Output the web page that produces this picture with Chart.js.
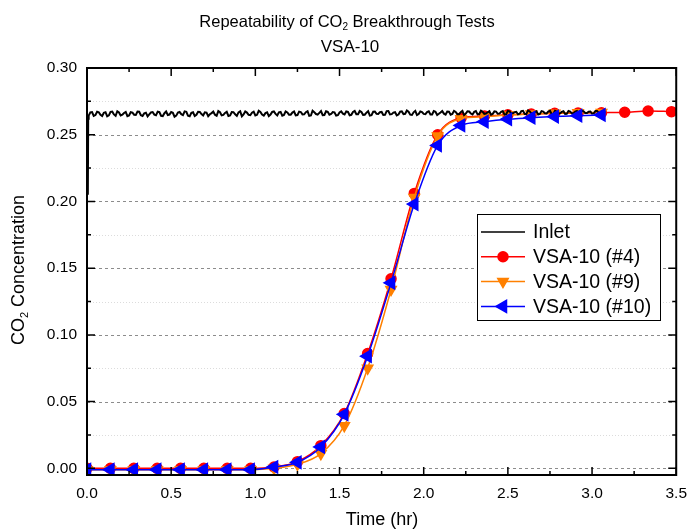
<!DOCTYPE html>
<html>
<head>
<meta charset="utf-8">
<script src="https://cdn.jsdelivr.net/npm/chart.js@4.4.0/dist/chart.umd.min.js"></script>
<style>
  html, body { margin: 0; padding: 0; background: #fff; }
  #wrap { width: 696px; height: 531px; }
</style>
</head>
<body>
<div id="wrap"><canvas id="chart" width="696" height="531"></canvas></div>
<script>
const FONT = '"Liberation Sans", Arial, sans-serif';

// text pieces, sub = subscript
const TITLE_LINE1 = [{ t: 'Repeatability of CO' }, { t: '2', sub: true }, { t: ' Breakthrough Tests' }];
const TITLE_LINE2 = [{ t: 'VSA-10' }];
const X_TITLE = [{ t: 'Time (hr)' }];
const Y_TITLE = [{ t: 'CO' }, { t: '2', sub: true }, { t: ' Concentration' }];

const LABELS = ['Inlet', 'VSA-10 (#4)', 'VSA-10 (#9)', 'VSA-10 (#10)'];

// sample times (hr) where the markers sit
const TIMES = [0.000, 0.139, 0.278, 0.417, 0.556, 0.694, 0.833, 0.972, 1.111, 1.250,
  1.389, 1.528, 1.667, 1.806, 1.944, 2.083, 2.222, 2.361, 2.500, 2.639,
  2.778, 2.917, 3.056, 3.194, 3.333, 3.472];

const RUN4 = [0.000, 0.000, 0.000, 0.000, 0.000, 0.000, 0.000, 0.000, 0.001, 0.005,
  0.017, 0.041, 0.086, 0.142, 0.206, 0.250, 0.2625, 0.2640, 0.2650, 0.2655,
  0.2660, 0.2662, 0.2665, 0.2668, 0.2678, 0.2673];

const RUN9 = [-0.001, -0.001, -0.001, -0.001, -0.001, -0.001, -0.001, -0.001, 0.000, 0.003,
  0.011, 0.032, 0.075, 0.134, 0.203, 0.249, 0.2620, 0.2635, 0.2648, 0.2655,
  0.2660, 0.2664, 0.2667];

const RUN10 = [-0.001, -0.001, -0.001, -0.001, -0.001, -0.001, -0.001, -0.001, 0.001, 0.0045,
  0.016, 0.0405, 0.084, 0.139, 0.198, 0.242, 0.257, 0.2598, 0.2616, 0.2628,
  0.2636, 0.2643, 0.2648];

// inlet: fast start, then a noisy plateau read every 0.01 hr up to 3.08 hr
// (INLET_A at 0.02, 0.04, ... ; INLET_B at 0.01, 0.03, ...)
const INLET_START_T = [0.005, 0.007];
const INLET_START = [0.205, 0.262];
const INLET_A = [
  0.2668,0.2641,0.2672,0.2649,0.2665,0.2638,0.2671,0.2652,0.2676,0.2644,0.2663,0.2639,0.2669,0.2650,0.2674,0.2646,0.2660,0.2637,0.2667,0.2651,
  0.2673,0.2642,0.2661,0.2648,0.2670,0.2635,0.2666,0.2654,0.2675,0.2643,0.2664,0.2640,0.2672,0.2655,0.2668,0.2639,0.2662,0.2650,0.2677,0.2645,
  0.2663,0.2641,0.2670,0.2653,0.2667,0.2638,0.2674,0.2649,0.2665,0.2644,0.2679,0.2651,0.2662,0.2640,0.2671,0.2656,0.2668,0.2643,0.2675,0.2650,
  0.2666,0.2645,0.2673,0.2652,0.2669,0.2641,0.2680,0.2655,0.2664,0.2647,0.2676,0.2650,0.2670,0.2643,0.2667,0.2658,0.2674,0.2646,0.2671,0.2653,
  0.2678,0.2649,0.2665,0.2644,0.2672,0.2657,0.2669,0.2648,0.2677,0.2652,0.2666,0.2645,0.2673,0.2655,0.2681,0.2650,0.2668,0.2647,0.2675,0.2656,
  0.2670,0.2651,0.2677,0.2648,0.2667,0.2658,0.2674,0.2650,0.2679,0.2654,0.2669,0.2647,0.2676,0.2659,0.2671,0.2652,0.2680,0.2656,0.2668,0.2650,
  0.2675,0.2657,0.2672,0.2651,0.2678,0.2660,0.2669,0.2653,0.2676,0.2655,0.2682,0.2658,0.2670,0.2652,0.2677,0.2661,0.2673,0.2654,0.2679,0.2659,
  0.2671,0.2656,0.2678,0.2660,0.2674,0.2655,0.2680,0.2662,0.2672,0.2658,0.2677,0.2663,0.2675,0.2668
];
const INLET_B = [
  0.2643,0.2670,0.2647,0.2668,0.2640,0.2669,0.2645,0.2673,0.2642,0.2667,0.2650,0.2671,0.2644,0.2666,0.2648,0.2672,0.2641,0.2665,0.2652,0.2670,
  0.2646,0.2669,0.2640,0.2674,0.2651,0.2664,0.2643,0.2670,0.2647,0.2672,0.2638,0.2668,0.2649,0.2671,0.2644,0.2666,0.2653,0.2673,0.2642,0.2669,
  0.2648,0.2672,0.2645,0.2669,0.2641,0.2675,0.2652,0.2666,0.2646,0.2673,0.2649,0.2670,0.2643,0.2668,0.2651,0.2674,0.2645,0.2671,0.2648,0.2667,
  0.2650,0.2674,0.2647,0.2670,0.2653,0.2676,0.2644,0.2669,0.2651,0.2677,0.2648,0.2672,0.2655,0.2668,0.2646,0.2675,0.2652,0.2671,0.2649,0.2678,
  0.2653,0.2670,0.2650,0.2676,0.2647,0.2673,0.2655,0.2671,0.2649,0.2678,0.2654,0.2669,0.2651,0.2675,0.2657,0.2672,0.2648,0.2679,0.2655,0.2670,
  0.2654,0.2676,0.2652,0.2672,0.2657,0.2678,0.2651,0.2673,0.2656,0.2671,0.2653,0.2679,0.2658,0.2674,0.2652,0.2677,0.2655,0.2672,0.2659,0.2676,
  0.2656,0.2673,0.2658,0.2677,0.2654,0.2675,0.2660,0.2672,0.2657,0.2679,0.2655,0.2674,0.2661,0.2676,0.2656,0.2673,0.2659,0.2680,0.2657,0.2674,
  0.2660,0.2676,0.2657,0.2673,0.2661,0.2678,0.2659,0.2675,0.2662,0.2674,0.2660,0.2677,0.2664,0.2671
];
const INLET_STEP = 0.01;

const X_TICKS = [0, 0.5, 1.0, 1.5, 2.0, 2.5, 3.0, 3.5];
const Y_TICKS = [0, 0.05, 0.10, 0.15, 0.20, 0.25, 0.30];

const toXY = (xs, ys) => ys.map((y, i) => ({ x: xs[i], y }));
const inletPlateau = [];
INLET_B.forEach((b, i) => {
  inletPlateau.push({ x: +((2 * i + 1) * INLET_STEP).toFixed(3), y: b });
  inletPlateau.push({ x: +((2 * i + 2) * INLET_STEP).toFixed(3), y: INLET_A[i] });
});
const inletPoints = toXY(INLET_START_T, INLET_START).concat(inletPlateau);

function drawRich(ctx, parts, x, y, size, angle) {
  ctx.save();
  ctx.translate(x, y);
  ctx.rotate(angle || 0);
  ctx.fillStyle = '#000';
  ctx.textBaseline = 'middle';
  ctx.textAlign = 'left';
  const subSize = Math.round(size * 0.62);
  const fontOf = p => (p.sub ? subSize : size) + 'px ' + FONT;
  let w = 0;
  parts.forEach(p => { ctx.font = fontOf(p); w += ctx.measureText(p.t).width; });
  let cx = -w / 2;
  parts.forEach(p => {
    ctx.font = fontOf(p);
    ctx.fillText(p.t, cx, p.sub ? size * 0.32 : 0);
    cx += ctx.measureText(p.t).width;
  });
  ctx.restore();
}

const mids = arr => arr.slice(1).map((v, i) => (v + arr[i]) / 2);

const decor = {
  id: 'decor',
  beforeDatasetsDraw(chart) {
    const { ctx, chartArea: a, scales: { y } } = chart;
    ctx.save();
    ctx.lineWidth = 1;
    ctx.strokeStyle = '#dcdcdc';
    ctx.setLineDash([1, 2]);
    mids(Y_TICKS).forEach(v => {
      const py = Math.round(y.getPixelForValue(v)) + 0.5;
      ctx.beginPath(); ctx.moveTo(a.left, py); ctx.lineTo(a.right, py); ctx.stroke();
    });
    ctx.strokeStyle = '#8c8c8c';
    ctx.setLineDash([3, 3]);
    Y_TICKS.forEach(v => {
      const py = Math.round(y.getPixelForValue(v)) + 0.5;
      ctx.beginPath(); ctx.moveTo(a.left, py); ctx.lineTo(a.right, py); ctx.stroke();
    });
    ctx.restore();
  },
  afterDatasetsDraw(chart) {
    const { ctx, chartArea: a, scales: { x, y } } = chart;
    ctx.save();
    ctx.strokeStyle = '#000';
    ctx.lineWidth = 2;
    ctx.strokeRect(a.left, a.top, a.right - a.left, a.bottom - a.top);
    ctx.lineWidth = 1.5;
    const tick = (v, len, isX) => {
      ctx.beginPath();
      if (isX) {
        const px = x.getPixelForValue(v);
        ctx.moveTo(px, a.bottom); ctx.lineTo(px, a.bottom - len);
        ctx.moveTo(px, a.top); ctx.lineTo(px, a.top + len);
      } else {
        const py = y.getPixelForValue(v);
        ctx.moveTo(a.left, py); ctx.lineTo(a.left + len, py);
        ctx.moveTo(a.right, py); ctx.lineTo(a.right - len, py);
      }
      ctx.stroke();
    };
    X_TICKS.forEach(v => tick(v, 8, true));
    mids(X_TICKS).forEach(v => tick(v, 4, true));
    Y_TICKS.forEach(v => tick(v, 8, false));
    mids(Y_TICKS).forEach(v => tick(v, 4, false));

    // legend inside the plot
    const bx = 477.5, by = 214.5, bw = 183, bh = 106;
    ctx.fillStyle = '#fff';
    ctx.fillRect(bx, by, bw, bh);
    ctx.lineWidth = 1;
    ctx.strokeRect(bx, by, bw, bh);
    chart.data.datasets.forEach((ds, i) => {
      const ry = 232 + i * 24.8;
      ctx.strokeStyle = ds.borderColor;
      ctx.lineWidth = 1.5;
      ctx.beginPath(); ctx.moveTo(481, ry); ctx.lineTo(525, ry); ctx.stroke();
      if (ds.pointRadius > 0) {
        ctx.fillStyle = ds.pointBackgroundColor;
        ctx.strokeStyle = ds.pointBackgroundColor;
        Chart.helpers.drawPoint(ctx, {
          pointStyle: ds.pointStyle, radius: ds.pointRadius,
          rotation: ds.pointRotation || 0, borderWidth: 1
        }, 503, ry);
      }
      ctx.fillStyle = '#000';
      ctx.font = '19.5px ' + FONT;
      ctx.textBaseline = 'middle';
      ctx.textAlign = 'left';
      ctx.fillText(ds.label, 533, ry + 1);
    });
    ctx.restore();

    drawRich(ctx, TITLE_LINE1, 347, 22, 16.5);
    drawRich(ctx, TITLE_LINE2, 350, 47, 17);
    drawRich(ctx, X_TITLE, 382, 520, 18);
    drawRich(ctx, Y_TITLE, 19, 270, 18, -Math.PI / 2);
  }
};

new Chart(document.getElementById('chart'), {
  type: 'line',
  data: {
    datasets: [
      {
        label: LABELS[0], data: inletPoints, order: 1,
        borderColor: '#000', borderWidth: 2, pointRadius: 0, tension: 0
      },
      {
        label: LABELS[1], data: toXY(TIMES, RUN4), order: 3,
        borderColor: '#ff0000', borderWidth: 1.5, cubicInterpolationMode: 'monotone',
        pointStyle: 'circle', pointRadius: 5, pointBackgroundColor: '#ff0000', pointBorderColor: '#ff0000'
      },
      {
        label: LABELS[2], data: toXY(TIMES, RUN9), order: 2,
        borderColor: '#ff8000', borderWidth: 1.5, cubicInterpolationMode: 'monotone',
        pointStyle: 'triangle', pointRotation: 180, pointRadius: 6,
        pointBackgroundColor: '#ff8000', pointBorderColor: '#ff8000'
      },
      {
        label: LABELS[3], data: toXY(TIMES, RUN10), order: 0,
        borderColor: '#0000ff', borderWidth: 1.5, cubicInterpolationMode: 'monotone',
        pointStyle: 'triangle', pointRotation: 270, pointRadius: 7,
        pointBackgroundColor: '#0000ff', pointBorderColor: '#0000ff'
      }
    ]
  },
  options: {
    responsive: false,
    devicePixelRatio: 1,
    animation: false,
    layout: { padding: { left: 0, right: 13, top: 68, bottom: 0 } },
    plugins: { legend: { display: false }, title: { display: false }, tooltip: { enabled: false } },
    scales: {
      x: {
        type: 'linear', min: 0, max: 3.5,
        afterBuildTicks: s => { s.ticks = X_TICKS.map(v => ({ value: v })); },
        afterFit: s => { s.height = 56; },
        grid: { display: false, drawTicks: false },
        border: { display: false },
        ticks: { color: '#000', font: { family: FONT, size: 15.5 }, padding: 9, maxRotation: 0,
          callback: v => v.toFixed(1) }
      },
      y: {
        type: 'linear', min: -0.005, max: 0.30,
        afterBuildTicks: s => { s.ticks = Y_TICKS.map(v => ({ value: v })); },
        afterFit: s => { s.width = 87; },
        grid: { display: false, drawTicks: false },
        border: { display: false },
        ticks: { color: '#000', font: { family: FONT, size: 15.5 }, padding: 10,
          callback: v => v.toFixed(2) }
      }
    }
  },
  plugins: [decor]
});
</script>
</body>
</html>
